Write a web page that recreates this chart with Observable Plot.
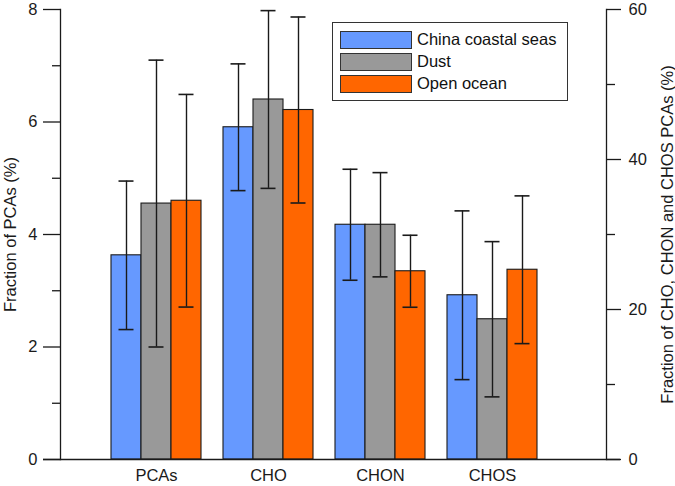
<!DOCTYPE html>
<html>
<head>
<meta charset="utf-8">
<script src="https://cdn.jsdelivr.net/npm/d3@7"></script>
<script src="https://cdn.jsdelivr.net/npm/@observablehq/plot@0.6"></script>
<style>
  html, body { margin: 0; padding: 0; background: #fff; }
  #wrap { position: relative; width: 675px; height: 486px; font-family: "Liberation Sans", Arial, Helvetica, sans-serif; }
  #legend { position: absolute; left: 332px; top: 22px; width: 234px; height: 77px; border: 1.2px solid #333; background: #fff; }
  .row { position: absolute; left: 7px; height: 18px; }
  .sw { position: absolute; left: 0; top: 0; width: 70px; height: 16px; border: 1.3px solid #333; }
  .lab { position: absolute; left: 77px; top: -1px; font-size: 16.5px; line-height: 18px; color: #111; white-space: nowrap; }
</style>
</head>
<body>
<div id="wrap"></div>
<script>
// ---- data ----
const categories = ["PCAs", "CHO", "CHON", "CHOS"];
const series = ["China coastal seas", "Dust", "Open ocean"];
const colors = ["#6699FF", "#999999", "#FF6600"];
// PCAs read on the left axis (%), CHO/CHON/CHOS read on the right axis (%)
const axisOf = ["left", "right", "right", "right"];
const coastalValues = [3.63, 44.3, 31.3, 21.9];
const coastalErrors = [1.32, 8.45, 7.4, 11.25];
const dustValues = [4.55, 48.0, 31.3, 18.7];
const dustErrors = [2.55, 11.85, 6.95, 10.35];
const oceanValues = [4.60, 46.6, 25.1, 25.3];
const oceanErrors = [1.89, 12.4, 4.8, 9.85];
const leftTicks = [0, 2, 4, 6, 8];
const leftMinorTicks = [1, 3, 5, 7];
const rightTicks = [0, 20, 40, 60];
const rightMinorTicks = [10, 30, 50];
const leftMax = 8, rightMax = 60;
const leftLabel = "Fraction of PCAs (%)";
const rightLabel = "Fraction of CHO, CHON and CHOS PCAs (%)";

const factor = rightMax / leftMax;
const allValues = [coastalValues, dustValues, oceanValues];
const allErrors = [coastalErrors, dustErrors, oceanErrors];
const tables = series.map((s, si) => categories.map((c, ci) => {
  const k = axisOf[ci] === "right" ? factor : 1;
  const v = allValues[si][ci], e = allErrors[si][ci];
  return {category: c, series: s, y: v / k, lo: (v - e) / k, hi: (v + e) / k};
}));

// bar placement inside each 90px group band (style only)
const barInsets = [[0, 60], [30, 30], [60, 0]];
const capInsets = [[7.5, 67.5], [37.5, 37.5], [67.5, 7.5]];
const ruleOffsets = [-30, 0, 30];
const ink = "#1a1a1a";

const marks = [];
tables.forEach((rows, si) => {
  marks.push(Plot.barY(rows, {x: "category", y: "y", fill: colors[si], stroke: ink, strokeWidth: 1.1,
    insetLeft: barInsets[si][0], insetRight: barInsets[si][1]}));
});
tables.forEach((rows, si) => {
  marks.push(Plot.ruleX(rows, {x: "category", y1: "lo", y2: "hi", dx: ruleOffsets[si], stroke: ink, strokeWidth: 1.4}));
  marks.push(Plot.tickY(rows, {x: "category", y: "hi", stroke: ink, strokeWidth: 1.6,
    insetLeft: capInsets[si][0], insetRight: capInsets[si][1]}));
  marks.push(Plot.tickY(rows, {x: "category", y: "lo", stroke: ink, strokeWidth: 1.6,
    insetLeft: capInsets[si][0], insetRight: capInsets[si][1]}));
});

const chart = Plot.plot({
  width: 675,
  height: 486,
  marginLeft: 60,
  marginRight: 69,
  marginTop: 9,
  marginBottom: 27,
  style: {fontFamily: "'Liberation Sans', Arial, Helvetica, sans-serif", fontSize: "16.5px", color: ink, background: "transparent"},
  x: {domain: categories, paddingInner: 0.2, paddingOuter: 0.5245, align: 0.4234, label: null},
  y: {domain: [0, leftMax], label: null},
  marks: [
    ...marks,
    Plot.frame({anchor: "left", stroke: ink, strokeWidth: 1.3}),
    Plot.frame({anchor: "right", stroke: ink, strokeWidth: 1.3}),
    Plot.ruleY([0], {insetLeft: -17, insetRight: -14, stroke: ink, strokeWidth: 1.3}),
    Plot.axisY({ticks: leftTicks, tickSize: 17, tickPadding: 6, strokeWidth: 1.3, label: null, tickFormat: d => String(d)}),
    Plot.axisY({ticks: leftMinorTicks, tickSize: 8, strokeWidth: 1.3, label: null, tickFormat: () => ""}),
    Plot.axisY({anchor: "right", ticks: rightTicks.map(v => v / factor), tickSize: 14, tickPadding: 8, strokeWidth: 1.3, label: null,
      tickFormat: d => String(Math.round(d * factor))}),
    Plot.axisY({anchor: "right", ticks: rightMinorTicks.map(v => v / factor), tickSize: 8, strokeWidth: 1.3, label: null, tickFormat: () => ""}),
    Plot.axisX({tickSize: 0, tickPadding: 10, label: null}),
    Plot.text([leftLabel], {frameAnchor: "left", textAnchor: "middle", lineAnchor: "middle", rotate: -90, dx: -50, fontSize: 16.5, fill: ink}),
    Plot.text([rightLabel], {frameAnchor: "right", textAnchor: "middle", lineAnchor: "middle", rotate: -90, dx: 61, fontSize: 16.5, fill: ink})
  ]
});

const wrap = document.getElementById("wrap");
wrap.appendChild(chart);

// legend
const legend = document.createElement("div");
legend.id = "legend";
const rowTops = [7.5, 30, 52.3];
series.forEach((s, i) => {
  const row = document.createElement("div");
  row.className = "row";
  row.style.top = rowTops[i] + "px";
  const sw = document.createElement("div");
  sw.className = "sw";
  sw.style.background = colors[i];
  const lab = document.createElement("div");
  lab.className = "lab";
  lab.textContent = s;
  row.appendChild(sw);
  row.appendChild(lab);
  legend.appendChild(row);
});
wrap.appendChild(legend);
</script>
</body>
</html>
